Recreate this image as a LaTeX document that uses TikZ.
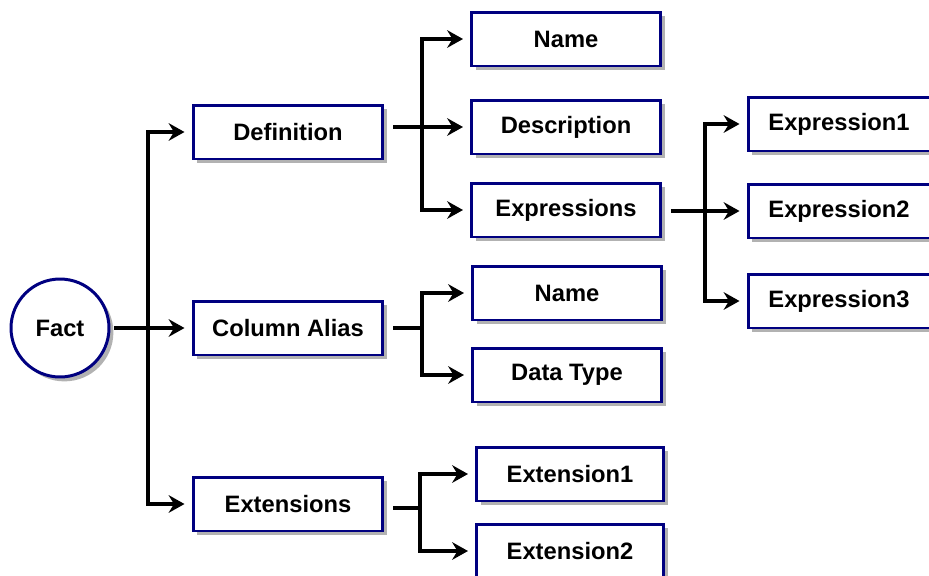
\documentclass[tikz,border=0pt]{standalone}
\usepackage{fontspec}
\setmainfont{Liberation Sans}
\usetikzlibrary{arrows.meta,shadows}
\definecolor{navyline}{RGB}{0,0,128}
\tikzset{
  item/.style={draw=navyline, line width=1.7pt, fill=white, minimum width=3.78cm, minimum height=1.08cm,
    font=\fontsize{13.5}{15}\selectfont\bfseries,
    drop shadow={shadow xshift=2.5pt, shadow yshift=-2.5pt, opacity=0.3, fill=black}},
  root/.style={item, circle, minimum width=1.96cm, minimum size=1.96cm},
  link/.style={->, line width=1.8pt, shorten >=4pt},
  stub/.style={line width=1.8pt, shorten <=5pt}
}
\begin{document}
\begin{tikzpicture}[x=0.02cm, y=-0.02cm, >={Stealth[length=9pt,width=10pt,inset=3pt]}]
\useasboundingbox (0,0) rectangle (929,575);
\node[root] (fact) at (60,328) {Fact};
\node[item, minimum width=3.8cm] (def) at (288,132) {Definition};
\node[item, minimum width=3.8cm] (alias) at (288,328) {Column Alias};
\node[item, minimum width=3.8cm] (ext) at (288,504) {Extensions};
\node[item] (name1) at (566,39) {Name};
\node[item] (desc) at (566,127) {Description};
\node[item] (exprs) at (566,210) {Expressions};
\node[item] (name2) at (567,293) {Name};
\node[item] (dtype) at (567,375) {Data Type};
\node[item, minimum width=3.74cm] (ext1) at (570,474) {Extension1};
\node[item, minimum width=3.74cm] (ext2) at (570,551) {Extension2};
\node[item, minimum width=3.64cm] (expr1) at (839,124) {Expression1};
\node[item, minimum width=3.64cm] (expr2) at (839,211) {Expression2};
\node[item, minimum width=3.64cm] (expr3) at (839,301) {Expression3};
% branch points
\coordinate (b1) at (148,328);
\coordinate (b2) at (422,127);
\coordinate (b3) at (422,328);
\coordinate (b4) at (420,508);
\coordinate (b5) at (705,211);
\draw[link, shorten <=2pt] (fact) -- (alias);
\draw[link] (b1) |- (def);
\draw[link] (b1) |- (ext);
\draw[stub] (def.east |- b2) -- (b2);
\draw[link] (b2) -- (desc);
\draw[link] (b2) |- (name1);
\draw[link] (b2) |- (exprs);
\draw[stub] (alias.east |- b3) -- (b3);
\draw[link] (b3) |- (name2);
\draw[link] (b3) |- (dtype);
\draw[stub] (ext.east |- b4) -- (b4);
\draw[link] (b4) |- (ext1);
\draw[link] (b4) |- (ext2);
\draw[stub] (exprs.east |- b5) -- (b5);
\draw[link] (b5) -- (expr2);
\draw[link] (b5) |- (expr1);
\draw[link] (b5) |- (expr3);
\end{tikzpicture}
\end{document}
